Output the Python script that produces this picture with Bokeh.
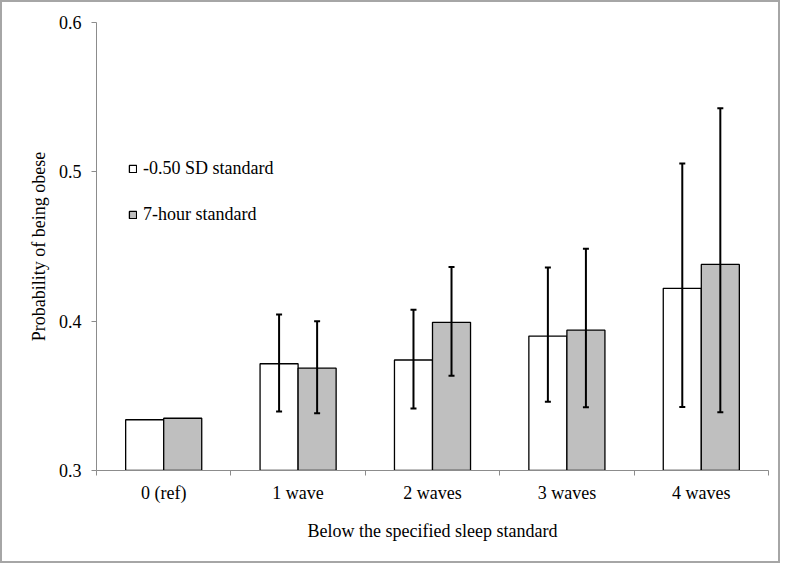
import numpy as np
from bokeh.plotting import figure
from bokeh.models import (ColumnDataSource, Range1d, FixedTicker, Whisker, TeeHead,
                          Legend, LegendItem)
from bokeh.transform import dodge
from bokeh.embed import file_html
from bokeh.resources import INLINE

categories = ["0 (ref)", "1 wave", "2 waves", "3 waves", "4 waves"]
series_names = ["-0.50 SD standard", "7-hour standard"]

sd_mean = [0.334, 0.3715, 0.374, 0.390, 0.422]
sd_lower = [np.nan, 0.3395, 0.3415, 0.346, 0.3426]
sd_upper = [np.nan, 0.4045, 0.4076, 0.436, 0.5056]

hr_mean = [0.335, 0.3685, 0.3992, 0.394, 0.438]
hr_lower = [np.nan, 0.3384, 0.3634, 0.3424, 0.339]
hr_upper = [np.nan, 0.400, 0.4362, 0.4485, 0.5425]

y_ticks = [0.3, 0.4, 0.5, 0.6]

FONT = "Liberation Serif"
BAR_W = 0.283
OFF = BAR_W / 2

pos = np.arange(len(categories)) + 0.5

src_sd = ColumnDataSource(dict(pos=pos, mean=sd_mean))
src_hr = ColumnDataSource(dict(pos=pos, mean=hr_mean))

mask_sd = ~np.isnan(np.array(sd_lower))
mask_hr = ~np.isnan(np.array(hr_lower))
err_sd = ColumnDataSource(dict(pos=pos[mask_sd], lower=np.array(sd_lower)[mask_sd],
                               upper=np.array(sd_upper)[mask_sd]))
err_hr = ColumnDataSource(dict(pos=pos[mask_hr], lower=np.array(hr_lower)[mask_hr],
                               upper=np.array(hr_upper)[mask_hr]))

p = figure(width=780, height=563, x_range=Range1d(0, len(categories)),
           y_range=Range1d(y_ticks[0], y_ticks[-1]),
           output_backend="svg", toolbar_location=None,
           min_border_left=94, min_border_right=14, min_border_top=20,
           min_border_bottom=95)
p.styles = {"border": "2px solid #a6a6a6"}
p.outline_line_color = None
p.xgrid.visible = False
p.ygrid.visible = False

r_sd = p.vbar(x=dodge("pos", -OFF), top="mean", bottom=y_ticks[0], width=BAR_W,
              source=src_sd, fill_color="white", line_color="black", line_width=1.3)
r_hr = p.vbar(x=dodge("pos", OFF), top="mean", bottom=y_ticks[0], width=BAR_W,
              source=src_hr, fill_color="#bfbfbf", line_color="black", line_width=1.3)

for src, off in ((err_sd, -OFF), (err_hr, OFF)):
    w = Whisker(base=dodge("pos", off), lower="lower", upper="upper", source=src,
                line_color="black", line_width=2, level="overlay",
                upper_head=TeeHead(size=6, line_color="black", line_width=2),
                lower_head=TeeHead(size=6, line_color="black", line_width=2))
    p.add_layout(w)

# axes
ax = p.xaxis[0]
ax.ticker = FixedTicker(ticks=list(pos), minor_ticks=list(range(len(categories) + 1)))
ax.major_label_overrides = {float(x): c for x, c in zip(pos, categories)}
ax.major_tick_line_color = None
ax.minor_tick_line_color = "#8c8c8c"
ax.minor_tick_in = 0
ax.minor_tick_out = 5
ax.axis_line_color = "#8c8c8c"
ax.major_label_standoff = 6
ax.axis_label = "Below the specified sleep standard"
ax.axis_label_standoff = 15

ay = p.yaxis[0]
ay.ticker = FixedTicker(ticks=y_ticks)
ay.major_tick_in = 0
ay.major_tick_out = 5
ay.major_tick_line_color = "#8c8c8c"
ay.minor_tick_line_color = None
ay.axis_line_color = "#8c8c8c"
ay.major_label_standoff = 10
ay.axis_label = "Probability of being obese"
ay.axis_label_standoff = 7

for a in (ax, ay):
    a.major_label_text_font = FONT
    a.major_label_text_font_size = "18px"
    a.major_label_text_color = "black"
    a.axis_label_text_font = FONT
    a.axis_label_text_font_size = "18px"
    a.axis_label_text_font_style = "normal"
    a.axis_label_text_color = "black"

legend = Legend(items=[LegendItem(label=series_names[0], renderers=[r_sd]),
                       LegendItem(label=series_names[1], renderers=[r_hr])],
                location=(32, 245), orientation="vertical",
                glyph_width=9, glyph_height=9, label_height=20, spacing=25,
                label_standoff=6, padding=0, margin=0,
                border_line_color=None, background_fill_alpha=0,
                label_text_font=FONT, label_text_font_size="18px",
                label_text_color="black")
p.add_layout(legend)

open("out.html", "w").write(file_html(p, INLINE))
